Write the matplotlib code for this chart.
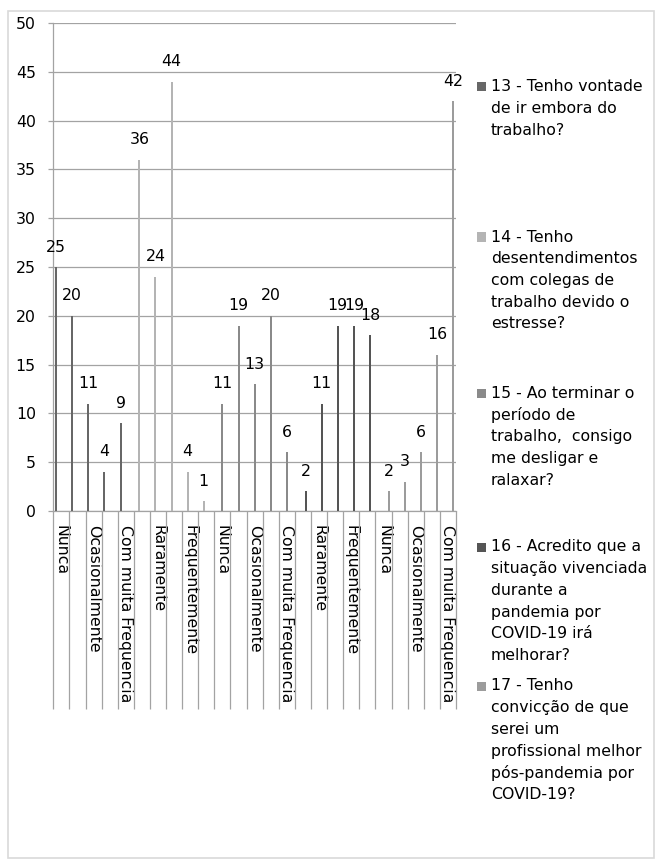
import numpy as np
import matplotlib
matplotlib.use("Agg")
import matplotlib.pyplot as plt
from matplotlib.patches import Rectangle

# ---------------- data ----------------
answers = ["Nunca", "Raramente", "Ocasionalmente", "Frequentemente", "Com muita Frequencia"]
series_names = [
    "13 - Tenho vontade\nde ir embora do\ntrabalho?",
    "14 - Tenho\ndesentendimentos\ncom colegas de\ntrabalho devido o\nestresse?",
    "15 - Ao terminar o\nperíodo de\ntrabalho,  consigo\nme desligar e\nralaxar?",
    "16 - Acredito que a\nsituação vivenciada\ndurante a\npandemia por\nCOVID-19 irá\nmelhorar?",
    "17 - Tenho\nconvicção de que\nserei um\nprofissional melhor\npós-pandemia por\nCOVID-19?",
]
q13 = [25, 20, 11, 4, 9]
q14 = [36, 24, 44, 4, 1]
q15 = [11, 19, 13, 20, 6]
q16 = [2, 11, 19, 19, 18]
q17 = [2, 3, 6, 16, 42]
series_values = [q13, q14, q15, q16, q17]
colors = ["#676767", "#b4b4b4", "#8a8a8a", "#555555", "#9c9c9c"]
categories = answers * 5
yticks = list(range(0, 51, 5))

# ---------------- layout ----------------
W, H = 655, 868
FS = 11.3
GRID = "#a3a3a3"
plt.rcParams["font.family"] = ["DejaVu Sans"]
plt.rcParams["font.size"] = FS

fig = plt.figure(figsize=(W / 100, H / 100), dpi=100)
fig.patch.set_facecolor("white")

# chart-area border
fig.add_artist(Rectangle((8 / W, 1 - 858 / H), (654 - 8) / W, (858 - 11) / H,
                         transform=fig.transFigure, fill=False,
                         edgecolor="#d9d9d9", lw=1.2))

ax_l, ax_r, ax_t, ax_b = 53.3, 456.0, 23.0, 511.0
ax = fig.add_axes([ax_l / W, 1 - ax_b / H, (ax_r - ax_l) / W, (ax_b - ax_t) / H])

n_cat = len(categories)
slot = 0.161
bw = 0.125
for s, vals in enumerate(series_values):
    idx = np.arange(len(vals)) + 5 * s
    xs = idx + (s - 2) * slot
    ax.bar(xs, vals, width=bw, color=colors[s], zorder=3, linewidth=0)
    for x, v in zip(xs, vals):
        ax.annotate(str(v), (x, v), xytext=(0, 15.5), textcoords="offset pixels",
                    ha="center", va="baseline", fontsize=FS, color="black")

ax.set_xlim(-0.5, n_cat - 0.5)
ax.set_ylim(0, 50)
ax.set_yticks(yticks)
ax.set_yticklabels([str(t) for t in yticks])
ax.yaxis.grid(True, color=GRID, lw=0.9)
ax.set_axisbelow(True)

for sp in ["top", "right"]:
    ax.spines[sp].set_visible(False)
for sp in ["left", "bottom"]:
    ax.spines[sp].set_color(GRID)
    ax.spines[sp].set_linewidth(0.9)

ax.tick_params(axis="y", length=3.6, width=0.9, color=GRID, pad=9.0, labelsize=FS)

# category labels (every second category), long boundary ticks
show = np.arange(0, n_cat, 2)
ax.set_xticks(show)
ax.set_xticklabels([categories[i] for i in show], rotation=-90, ha="center", va="top",
                   rotation_mode="default")
ax.tick_params(axis="x", which="major", length=0, pad=10, labelsize=FS)
ax.set_xticks(np.arange(n_cat + 1) - 0.5, minor=True)
ax.tick_params(axis="x", which="minor", length=142.6, width=0.9, color=GRID)

# legend (manual, wrapped like the original)
leg_y = [86.7, 237.0, 393.5, 547.0, 686.0]
step = 21.7
for s, name in enumerate(series_names):
    y0 = leg_y[s]
    fig.add_artist(Rectangle((477 / W, 1 - (y0 + 4.5) / H), 9 / W, 9 / H,
                             transform=fig.transFigure, facecolor=colors[s],
                             edgecolor="none"))
    for j, line in enumerate(name.split("\n")):
        fig.text(491 / W, 1 - (y0 + j * step) / H, line, ha="left", va="center",
                 fontsize=FS, color="black")

fig.savefig("out.png", dpi=100, facecolor="white")
